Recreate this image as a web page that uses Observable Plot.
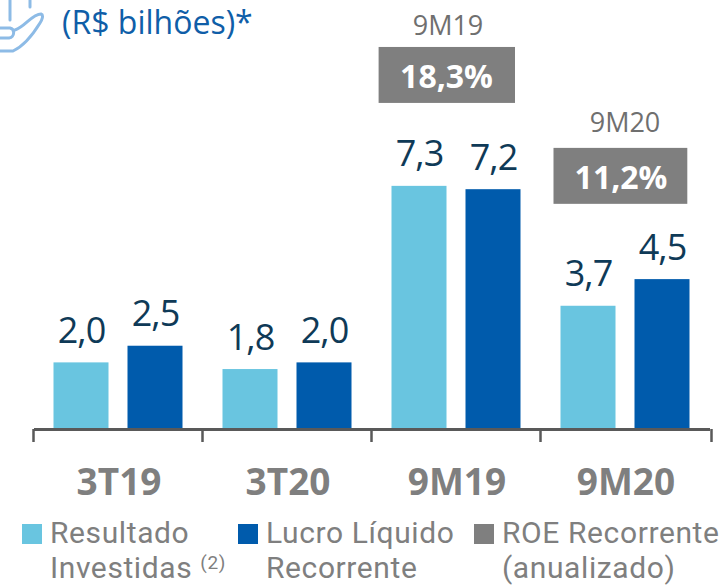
<!DOCTYPE html>
<html lang="pt-BR">
<head>
<meta charset="utf-8">
<script src="https://cdn.jsdelivr.net/npm/d3@7"></script>
<script src="https://cdn.jsdelivr.net/npm/@observablehq/plot@0.6"></script>
<style>
html,body{margin:0;padding:0;background:#fff}
body{width:727px;height:585px;position:relative;overflow:hidden;font-family:"Open Sans",sans-serif}
#chart svg{display:block}
.leg{position:absolute;top:515px;height:70px;color:#7f7f7f;font-family:Roboto,sans-serif;font-size:30px;letter-spacing:.6px;white-space:nowrap}
.sw{position:absolute;top:9px;left:0;width:20px;height:20px}
.l1,.l2{position:absolute;left:28px;line-height:35px;height:35px}
.l1{top:0}.l2{top:35px}
sup{font-size:19px;line-height:0;vertical-align:9px}
#title{position:absolute;left:62px;top:3px;font-size:32px;line-height:37px;color:#0f5ea8;white-space:nowrap}
#icon{position:absolute;left:0;top:0}
.val text{letter-spacing:-1px}
</style>
</head>
<body>
<div id="chart"></div>
<svg id="icon" width="50" height="55" fill="none" stroke="#8dbbe6" stroke-width="3" stroke-linecap="round">
  <path d="M10 0V20M30 0V7M0 28H10C15 29 15 37 9 38H0M15 30C25 27 32 14 41 14C44 15 42 20 40 23C32 36 24 46 13 51H0"/>
</svg>
<div id="title">(R$ bilhões)*</div>
<div class="leg" style="left:22px"><span class="sw" style="background:#69c5e0"></span><div class="l1">Resultado</div><div class="l2">Investidas <sup>(2)</sup></div></div>
<div class="leg" style="left:238px"><span class="sw" style="background:#005bac"></span><div class="l1">Lucro Líquido</div><div class="l2">Recorrente</div></div>
<div class="leg" style="left:474px"><span class="sw" style="background:#7f7f7f"></span><div class="l1">ROE Recorrente</div><div class="l2">(anualizado)</div></div>
<script>
const periods = ["3T19", "3T20", "9M19", "9M20"];
const series = ["Resultado Investidas", "Lucro Líquido Recorrente"];
const resultadoInvestidas = [2.0, 1.8, 7.3, 3.7];
const lucroLiquido = [2.5, 2.0, 7.2, 4.5];
const roePeriods = ["9M19", "9M20"];
const roeValues = ["18,3%", "11,2%"];
const colors = ["#69c5e0", "#005bac"];

const rows = periods.flatMap((p, i) => [
  {period: p, series: series[0], value: resultadoInvestidas[i]},
  {period: p, series: series[1], value: lucroLiquido[i]}
]);
const fmt = v => v.toFixed(1).replace(".", ",");
const axisColor = "#595959";

// placement of each ROE box relative to its group's tallest bar
const roeStyle = [
  {lift: 2.49, insetLeft: 6.6, insetRight: 26, dxBox: -10.5, dxHead: -9, dyHead: -12},
  {lift: 2.26, insetLeft: 12.5, insetRight: 22.7, dxBox: -5, dxHead: -1, dyHead: -16}
];
const boxH = 1.68;
const roeMarks = roePeriods.flatMap((p, i) => {
  const s = roeStyle[i];
  const top = Math.max(...rows.filter(r => r.period === p).map(r => r.value));
  const d = [{period: p, label: roeValues[i]}];
  return [
    Plot.rect(d, {fx: "period", y1: () => top + s.lift, y2: () => top + s.lift + boxH,
      fill: "#7f7f7f", insetLeft: s.insetLeft, insetRight: s.insetRight}),
    Plot.text(d, {fx: "period", y: () => top + s.lift + boxH / 2, text: "label", dx: s.dxBox, dy: 2,
      fill: "#fff", fontSize: 32, fontWeight: 700, lineAnchor: "middle"}),
    Plot.text(d, {fx: "period", y: () => top + s.lift + boxH, text: "period", dx: s.dxHead, dy: s.dyHead,
      fill: "#6f6f6f", fontSize: 27, lineAnchor: "bottom"})
  ];
});

const plot = Plot.plot({
  width: 727,
  height: 515,
  marginLeft: 32.5,
  marginRight: 15,
  marginTop: 0,
  marginBottom: 86,
  style: {fontFamily: '"Open Sans", sans-serif', background: "#fff"},
  fx: {domain: periods, padding: 0, label: null, axis: null},
  x: {domain: series, paddingInner: 0.262, paddingOuter: 0.272, align: 0.49, axis: null, label: null},
  y: {domain: [0, 12.88], axis: null},
  color: {domain: series, range: colors},
  marks: [
    Plot.barY(rows, {fx: "period", x: "series", y: "value", fill: "series"}),
    Plot.text(rows, {fx: "period", x: "series", y: "value", text: d => fmt(d.value), dy: -20,
      lineAnchor: "bottom", fontSize: 36, fill: "#0f3a57", className: "val"}),
    Plot.ruleY([0], {stroke: axisColor, strokeWidth: 3}),
    Plot.ruleX(series.slice(0, 1), {y1: 0, y2: -0.39, dx: -48, stroke: axisColor, strokeWidth: 2.5}),
    Plot.ruleX([{period: periods[3], series: series[1]}], {fx: "period", x: "series", y1: 0, y2: -0.39, dx: 49, stroke: axisColor, strokeWidth: 2.5}),
    Plot.axisFx({anchor: "bottom", tickSize: 0, tickPadding: 39, label: null, fontSize: 37, fontWeight: 700, fill: "#7f7f7f"}),
    ...roeMarks
  ]
});
document.getElementById("chart").append(plot);
</script>
</body>
</html>
